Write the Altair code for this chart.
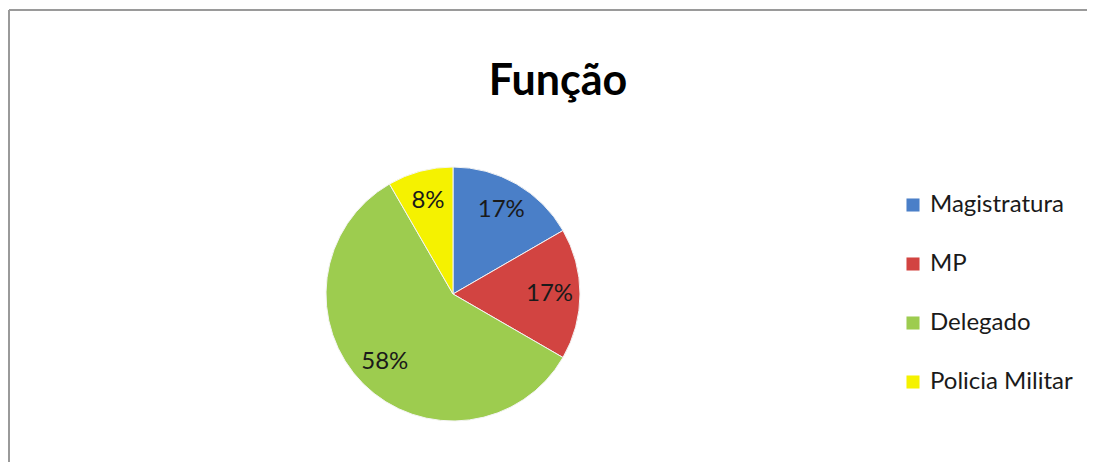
import altair as alt
import pandas as pd

categories = ["Magistratura", "MP", "Delegado", "Policia Militar"]
counts = [2, 2, 7, 1]
labels = ["17%", "17%", "58%", "8%"]
colors = ["#4a7fc8", "#d24441", "#9dcc4f", "#f5f200"]

df = pd.DataFrame({
    "Função": categories,
    "count": counts,
    "label": labels,
    "ord": list(range(len(categories))),
})

W, H = 1079, 454
CX, CY = 444, 286
R = 127
FONT = "Lato"

base = alt.Chart(df).encode(
    theta=alt.Theta("count:Q", stack=True),
    order=alt.Order("ord:Q"),
)

pie = base.mark_arc(radius=R, stroke="#f4f4f4", strokeWidth=1).encode(
    x=alt.value(CX),
    y=alt.value(CY),
    color=alt.Color(
        "Função:N",
        scale=alt.Scale(domain=categories, range=colors),
        sort=categories,
        legend=alt.Legend(
            title=None,
            orient="none",
            legendX=892,
            legendY=185,
            symbolType="square",
            symbolSize=170,
            symbolStrokeWidth=0,
            labelFontSize=24,
            labelFont=FONT,
            labelColor="#1a1a1a",
            rowPadding=35,
            labelOffset=5,
        ),
    ),
)

text = base.mark_text(radius=R * 0.76, fontSize=24, font=FONT, color="#1a1a1a").encode(
    x=alt.value(CX),
    y=alt.value(CY),
    text="label:N",
)

title_df = pd.DataFrame({"t": ["Função"]})
title = alt.Chart(title_df).mark_text(
    fontSize=43, font=FONT, fontWeight="bold", color="#000000", baseline="alphabetic"
).encode(x=alt.value(549), y=alt.value(87), text="t:N")

border_df = pd.DataFrame({"k": [0]})
top_rule = alt.Chart(border_df).mark_rule(color="#9a9a9a", strokeWidth=2).encode(
    x=alt.value(0), x2=alt.value(W), y=alt.value(2)
)
left_rule = alt.Chart(border_df).mark_rule(color="#9a9a9a", strokeWidth=2).encode(
    x=alt.value(0), y=alt.value(2), y2=alt.value(H)
)

chart = alt.layer(top_rule, left_rule, pie, text, title).properties(
    width=W,
    height=H,
    padding=0,
    background="white",
    autosize=alt.AutoSizeParams(type="fit", contains="padding"),
).configure_view(strokeWidth=0, stroke=None)

chart.save("out.html", embed_options={"renderer": "svg", "actions": False})
